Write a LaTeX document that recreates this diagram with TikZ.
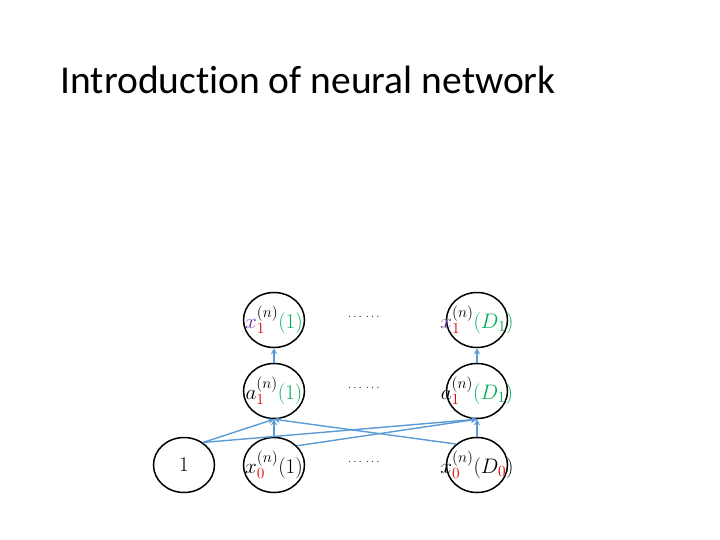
\RequirePackage{fix-cm}
\documentclass[tikz,border=0pt]{standalone}
\usepackage{fontspec}
\setmainfont{Carlito}[Ligatures=NoCommon]
\usepackage{tikz}
\usetikzlibrary{arrows.meta,shapes.geometric}
\DeclareMathSizes{21}{21}{15.5}{12}
\newcommand{\colL}{274}
\newcommand{\colR}{477}
\newcommand{\rowT}{320}
\newcommand{\rowM}{391}
\newcommand{\rowB}{465}
\newcommand{\nlabel}[1]{\makebox[0pt][c]{$#1$}}
\definecolor{linkblue}{HTML}{5B9BD5}
\definecolor{idxred}{HTML}{E00000}
\definecolor{dimgreen}{HTML}{00B050}
\definecolor{outpurple}{HTML}{7030A0}
\tikzset{
  neuron/.style={ellipse, draw=black, line width=1.5pt, minimum width=61pt,
    minimum height=55pt, inner sep=0pt, font=\fontsize{21}{24}\selectfont},
  link/.style={draw=linkblue, line width=1.4pt, -{Stealth[length=6pt,width=6pt]}},
  gap/.style={font=\fontsize{12}{14}\selectfont}
}

\begin{document}
\begin{tikzpicture}[x=1pt, y=-1pt]
    \useasboundingbox[fill=white] (0,0) rectangle (720,540);
    %
    \node[anchor=base west, font=\fontsize{39.5}{44}\selectfont] (title) at (57, 94)
        {Introduction of neural network};

    % input layer
    \node[neuron] (one) at (184, \rowB) {\nlabel{1}};
    \node[neuron] (xza) at (\colL, \rowB) {\nlabel{x_{{\color{idxred}0}}^{(n)}(1)}};
    \node[neuron] (xzd) at (\colR, \rowB)
        {\nlabel{x_{{\color{idxred}0}}^{(n)}(D_{{\color{idxred}0}})}};

    % hidden layer
    \node[neuron] (aoa) at (\colL, \rowM)
        {\nlabel{a_{{\color{idxred}1}}^{(n)}{\color{dimgreen}(1)}}};
    \node[neuron] (aod) at (\colR, \rowM)
        {\nlabel{a_{{\color{idxred}1}}^{(n)}{\color{dimgreen}(D_1)}}};

    % output of hidden layer
    \node[neuron] (xoa) at (\colL, \rowT)
        {\nlabel{{\color{outpurple}x}_{{\color{idxred}1}}^{(n)}{\color{dimgreen}(1)}}};
    \node[neuron] (xod) at (\colR, \rowT)
        {\nlabel{{\color{outpurple}x}_{{\color{idxred}1}}^{(n)}{\color{dimgreen}(D_1)}}};

    \node[gap] (dotT) at (364, 317) {$\ldots\,\ldots$};
    \node[gap] (dotM) at (364, 388) {$\ldots\,\ldots$};
    \node[gap] (dotB) at (364, 462) {$\ldots\,\ldots$};

    \draw[link] (one.50) -- (aoa.south);
    \draw[link] (one.50) -- (aod.south);
    \draw[link] (xza.north) -- (aoa.south);
    \draw[link] (xza.40) -- (aod.south);
    \draw[link] (xzd.135) -- (aoa.south);
    \draw[link] (xzd.north) -- (aod.south);
    \draw[link] (aoa.north) -- (xoa.south);
    \draw[link] (aod.north) -- (xod.south);

  \end{tikzpicture}
\end{document}
